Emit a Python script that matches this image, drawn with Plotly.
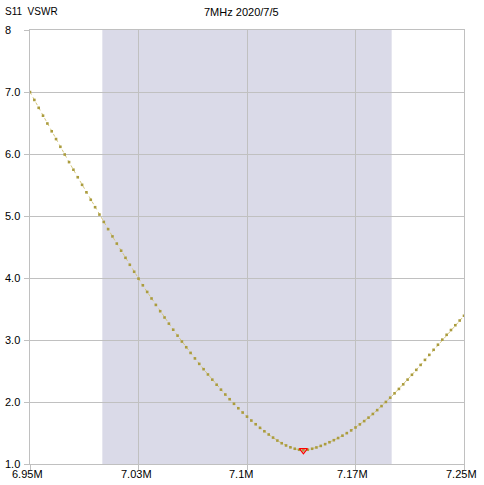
import plotly.graph_objects as go

# ---- data ----
FREQ_START_MHZ = 6.95
FREQ_STEP_MHZ = 0.003
VSWR = [
    7.000, 6.872, 6.745, 6.618, 6.492, 6.366, 6.241, 6.116, 5.992, 5.869,
    5.747, 5.625, 5.503, 5.382, 5.262, 5.142, 5.023, 4.905, 4.788, 4.671,
    4.555, 4.440, 4.326, 4.213, 4.101, 3.990, 3.882, 3.775, 3.670, 3.566,
    3.464, 3.363, 3.264, 3.166, 3.070, 2.975, 2.883, 2.792, 2.703, 2.615,
    2.529, 2.444, 2.361, 2.279, 2.199, 2.121, 2.045, 1.971, 1.899, 1.830,
    1.764, 1.701, 1.641, 1.583, 1.528, 1.476, 1.426, 1.378, 1.335, 1.299,
    1.269, 1.246, 1.230, 1.220, 1.230, 1.246, 1.267, 1.292, 1.320, 1.351,
    1.384, 1.419, 1.457, 1.498, 1.542, 1.589, 1.639, 1.692, 1.748, 1.807,
    1.869, 1.934, 2.001, 2.070, 2.140, 2.211, 2.285, 2.361, 2.439, 2.518,
    2.598, 2.679, 2.760, 2.842, 2.924, 3.006, 3.084, 3.161, 3.238, 3.314,
    3.390,
]
FREQ = [round(FREQ_START_MHZ + i * FREQ_STEP_MHZ, 6) for i in range(len(VSWR))]

BAND = [7.0, 7.2]
X_TICKS = [6.95, 7.025, 7.1, 7.175, 7.25]
X_TICK_LABELS = ["6.95M", "7.03M", "7.1M", "7.17M", "7.25M"]
Y_TICKS = [1, 2, 3, 4, 5, 6, 7, 8]
Y_TICK_LABELS = ["1.0", "2.0", "3.0", "4.0", "5.0", "6.0", "7.0", "8"]
TITLE_LEFT = "S11\u00a0\u00a0VSWR"
TITLE_CENTER = "7MHz 2020/7/5"

# ---- layout constants (pixels) ----
W, H = 484, 485
ML, MR, MT, MB = 30, 20, 30, 21
PW = W - ML - MR
PH = H - MT - MB
XR = [X_TICKS[0], X_TICKS[-1]]
YR = [Y_TICKS[0], Y_TICKS[-1]]

FONT = "Liberation Sans, Arial, sans-serif"
GRID = "#c0c0c0"

imin = min(range(len(VSWR)), key=lambda i: VSWR[i])

fig = go.Figure()
fig.add_trace(go.Scatter(
    x=FREQ, y=VSWR, mode="lines+markers",
    line=dict(color="#d4c77e", width=1, dash="dot"),
    marker=dict(symbol="square", size=2.6, color="#ab9c3e", line=dict(width=0)),
    hoverinfo="x+y", showlegend=False,
))
fig.add_trace(go.Scatter(
    x=[FREQ[imin]], y=[VSWR[imin]], mode="markers",
    marker=dict(symbol="triangle-down-open", size=7, color="red",
                line=dict(color="red", width=1.2)),
    showlegend=False,
))

fig.add_shape(type="rect", xref="x", yref="paper", x0=BAND[0], x1=BAND[1],
              y0=0, y1=1, fillcolor="#dadae8", line=dict(width=0), layer="below")

annotations = []
for v, t in zip(Y_TICKS, Y_TICK_LABELS):
    annotations.append(dict(xref="paper", yref="y", x=(3 - ML) / PW, y=v,
                            text=t, showarrow=False, xanchor="left", yanchor="middle",
                            font=dict(family=FONT, size=11, color="#000")))
for v, t in zip(X_TICKS, X_TICK_LABELS):
    frac = (v - XR[0]) / (XR[1] - XR[0])
    annotations.append(dict(xref="paper", yref="paper", x=frac - 20 / PW,
                            y=-(474 - (MT + PH)) / PH,
                            text=t, showarrow=False, xanchor="left", yanchor="middle",
                            font=dict(family=FONT, size=11, color="#000")))
annotations.append(dict(xref="paper", yref="paper", x=(3 - ML) / PW,
                        y=1 + (MT - 11.5) / PH, text=TITLE_LEFT, showarrow=False,
                        xanchor="left", yanchor="middle",
                        font=dict(family=FONT, size=10, color="#000")))
annotations.append(dict(xref="paper", yref="paper", x=(241 - ML) / PW,
                        y=1 + (MT - 11.5) / PH, text=TITLE_CENTER, showarrow=False,
                        xanchor="center", yanchor="middle",
                        font=dict(family=FONT, size=11, color="#000")))

fig.update_layout(
    width=W, height=H,
    margin=dict(l=ML, r=MR, t=MT, b=MB, pad=0),
    paper_bgcolor="white", plot_bgcolor="white",
    annotations=annotations,
    xaxis=dict(range=XR, tickvals=X_TICKS, showticklabels=False,
               showgrid=True, gridcolor=GRID, gridwidth=1,
               showline=True, linecolor=GRID, linewidth=1, mirror=True,
               ticks="outside", ticklen=5, tickcolor=GRID, zeroline=False,
               fixedrange=True),
    yaxis=dict(range=YR, tickvals=Y_TICKS, showticklabels=False,
               showgrid=True, gridcolor=GRID, gridwidth=1,
               showline=True, linecolor=GRID, linewidth=1, mirror=True,
               ticks="outside", ticklen=5, tickcolor=GRID, zeroline=False,
               fixedrange=True),
)

fig.write_html("out.html", config={"displayModeBar": False},
               post_script="document.body.style.margin='0';document.body.style.overflow='hidden';")
